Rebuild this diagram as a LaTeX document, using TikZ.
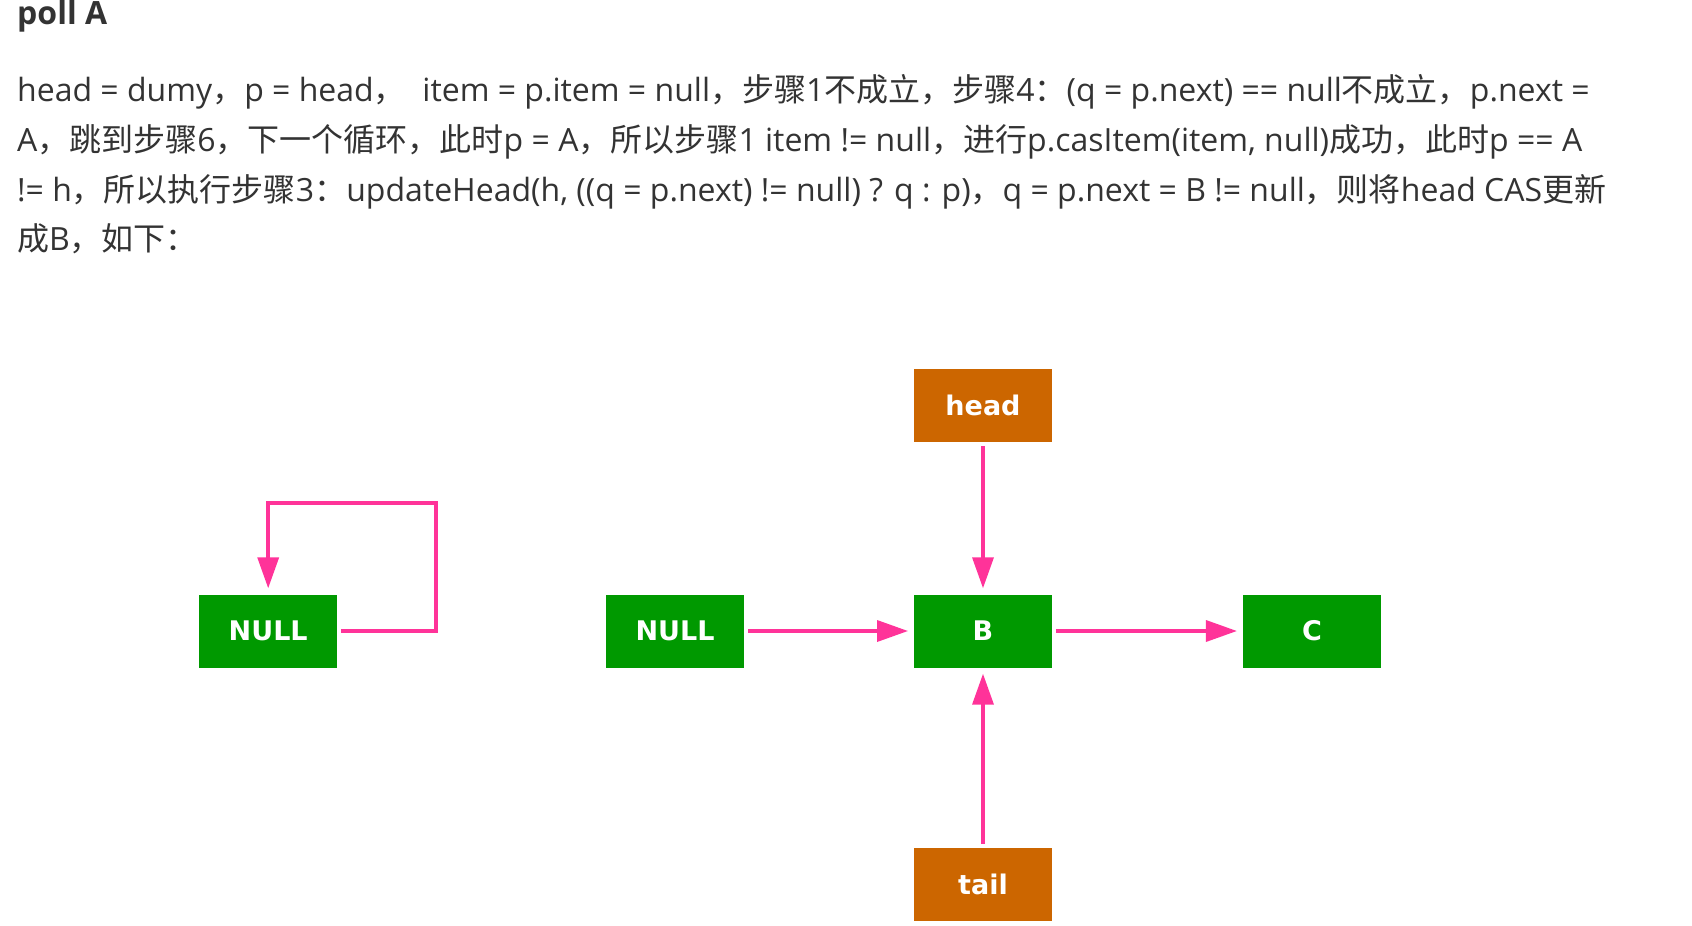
\documentclass[tikz,border=0pt]{standalone}
\usepackage{fontspec}
\setmainfont{Open Sans}
\newfontfamily\cjk{Noto Sans CJK SC}
\newfontfamily\boxfont{DejaVu Sans}
\usetikzlibrary{positioning}
\usetikzlibrary{arrows.meta}
\definecolor{nodegreen}{HTML}{009900}
\definecolor{ptrorange}{HTML}{CC6600}
\definecolor{linkpink}{HTML}{FF3399}
\definecolor{textgray}{HTML}{333333}
\newcommand{\zh}[1]{{\cjk #1}}
\tikzset{
  elem/.style={fill=nodegreen, text=white, minimum width=137.5pt, minimum height=73pt, inner sep=0pt, font=\boxfont\bfseries\fontsize{27}{27}\selectfont},
  ptr/.style={elem, fill=ptrorange},
  link/.style={color=linkpink, line width=3.5pt},
  para/.style={anchor=base west, inner sep=0pt, text=textgray, font=\fontsize{32}{50}\selectfont}
}

\begin{document}
\begin{tikzpicture}[x=1pt, y=-1pt, ->, >={Triangle[length=31pt,width=21pt]}, shorten >=6pt, shorten <=4pt]
    \useasboundingbox (0,0) rectangle (1692,926);

    \node[para, font=\bfseries\fontsize{32}{32}\selectfont] (title) at (17,24) {poll A};
    \node[para] (line1) at (17,101) {head = dumy\zh{，}p = head\zh{，}\ \ item = p.item = null\zh{，步骤}1\zh{不成立，步骤}4\zh{：}(q = p.next) == null\zh{不成立，}p.next =};
    \node[para] (line2) at (17,151) {A\zh{，跳到步骤}6\zh{，下一个循环，此时}p = A\zh{，所以步骤}1 item != null\zh{，进行}p.casItem(item, null)\zh{成功，此时}p == A};
    \node[para] (line3) at (17,201) {!= h\zh{，所以执行步骤}3\zh{：}updateHead(h, ((q = p.next) != null) ? q : p)\zh{，}q = p.next = B != null\zh{，则将}head CAS\zh{更新}};
    \node[para] (line4) at (17,250) {\zh{成}B\zh{，如下：}};

    \node[elem] (b) at (983,631) {B};
    \node[ptr] (head) [above=152pt of b] {head};
    \node[ptr] (tail) [below=180pt of b] {tail};
    \node[elem] (null2) [left=170pt of b] {NULL};
    \node[elem] (c) [right=191pt of b] {C};
    \node[elem] (null1) [left=269pt of null2] {NULL};
    \coordinate (bend) at ([xshift=99pt, yshift=128pt]null1.east);

    \path[link] (head) edge (b)
                (tail) edge (b)
                (null2) edge (b)
                (b) edge (c);
    \draw[link] (null1.east) -| (bend) -| (null1.north);
\end{tikzpicture}
\end{document}
